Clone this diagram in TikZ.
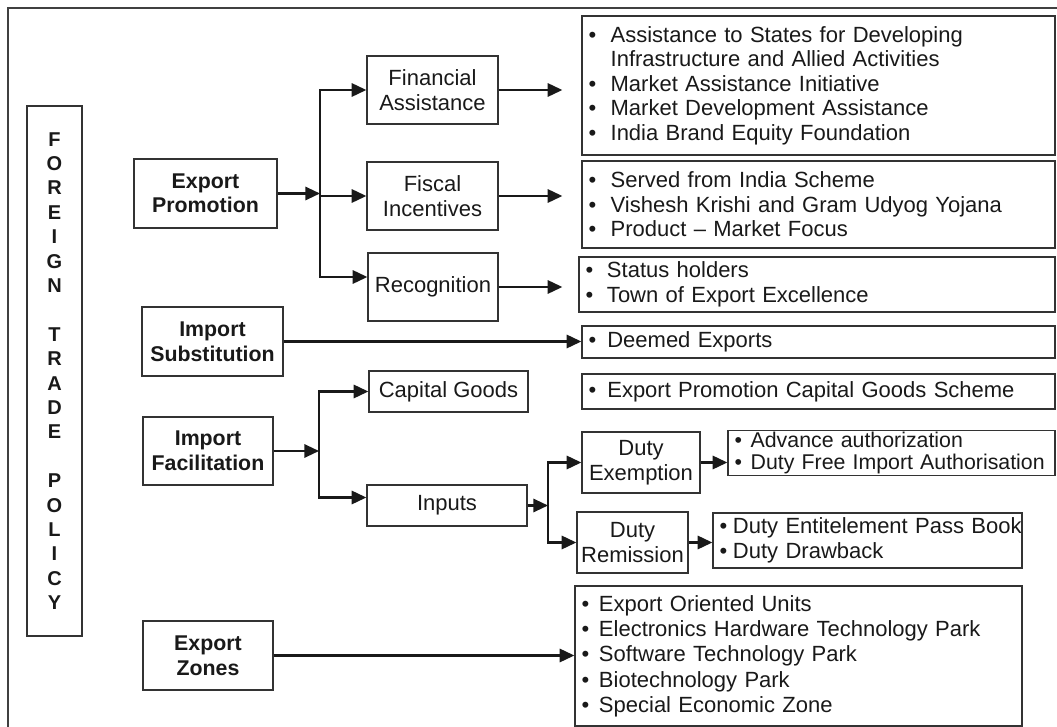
\documentclass[tikz,border=0pt]{standalone}
\usepackage{fontspec}
\setmainfont{Liberation Sans}
\usetikzlibrary{arrows.meta,calc}
\newcommand\itm[2][13pt]{\mbox{\makebox[#1][l]{\textbullet}#2}}

\begin{document}
\begin{tikzpicture}[x=0.75pt,y=-0.75pt,
  every node/.style={text=black!90},
  box/.style 2 args={draw=black!80,line width=1pt,inner sep=0pt,
    minimum width=#1*0.75pt,minimum height=#2*0.75pt,align=center,
    font=\fontsize{16.5}{18.4}\selectfont},
  head/.style 2 args={box={#1}{#2},font=\fontsize{16}{18.4}\selectfont\bfseries},
  lst/.code 2 args={\pgfmathsetmacro\lstw{#1*0.75-10}%
    \tikzset{box={#1}{#2},inner xsep=5pt,align=left,text width=\lstw pt}},
  ln/.style={line width=1.6pt,black!90},
  arr/.style={ln,-{Triangle[length=11pt,width=10pt]}}]
  \useasboundingbox (0,0) rectangle (1057,727);
  \draw[line width=0.8pt,black!75] (1057,8) -- (8,8) -- (8,727);

  \node[box={55}{530},font=\fontsize{15}{18.3}\selectfont\bfseries] (ftp) at (54.5,371)
    {F\\O\\R\\E\\I\\G\\N\\[18.3pt]T\\R\\A\\D\\E\\[18.3pt]P\\O\\L\\I\\C\\Y};

  \node[head={143}{69}] (exprom) at (205.5,193.5) {Export\\Promotion};
  \node[box={131}{68}] (finas) at (432.5,90) {Financial\\Assistance};
  \node[box={131}{68}] (fisc) at (432.5,196) {Fiscal\\Incentives};
  \node[box={130}{68}] (recog) at (433,287) {Recognition};
  \node[lst={473}{139}] (finlist) at (818.5,85.5)
    {\itm[16.5pt]{Assistance to States for Developing}\\
     \mbox{\hspace{16.5pt}Infrastructure and Allied Activities}\\
     \itm[16.5pt]{Market Assistance Initiative}\\
     \itm[16.5pt]{Market Development Assistance}\\
     \itm[16.5pt]{India Brand Equity Foundation}};
  \node[lst={473}{87}] (fisclist) at (818.5,204.5)
    {\itm[16.5pt]{Served from India Scheme}\\
     \itm[16.5pt]{Vishesh Krishi and Gram Udyog Yojana}\\
     \itm[16.5pt]{Product – Market Focus}};
  \node[lst={476}{55}] (recoglist) at (817,284.5)
    {\itm[16pt]{Status holders}\\\itm[16pt]{Town of Export Excellence}};

  \node[head={141}{69}] (impsub) at (212.5,341.5) {Import\\Substitution};
  \node[lst={473}{32}] (deemed) at (818.5,342) {\itm[14pt]{Deemed Exports}};

  \node[head={130}{68}] (impfac) at (208,451) {Import\\Facilitation};
  \node[box={159}{41}] (capg) at (448.5,391.5) {Capital Goods};
  \node[lst={473}{35}] (epcg) at (818.5,391.5)
    {\itm[14pt]{Export Promotion Capital Goods Scheme}};
  \node[box={160}{41}] (inputs) at (447,505.5) {Inputs};
  \node[box={118}{61}] (dutyex) at (641,462.5) {Duty\\Exemption};
  \node[box={111}{61}] (dutyrem) at (632.5,542.5) {Duty\\Remission};
  \node[lst={327}{45},font=\fontsize{16}{17}\selectfont] (exlist) at (891.5,453)
    {\itm[12pt]{Advance authorization}\\\itm[12pt]{Duty Free Import Authorisation}};
  \node[lst={309}{55}] (remlist) at (867.5,540.5)
    {\itm[10pt]{Duty Entitelement Pass Book}\\\itm[10pt]{Duty Drawback}};

  \node[head={130}{69}] (expzones) at (208,655.5) {Export\\Zones};
  \node[lst={447}{140},font=\fontsize{16.5}{19}\selectfont] (zonelist) at (798.5,656)
    {\itm{Export Oriented Units}\\
     \itm{Electronics Hardware Technology Park}\\
     \itm{Software Technology Park}\\
     \itm{Biotechnology Park}\\
     \itm{Special Economic Zone}};

  \coordinate (b1) at (320,0);
  \coordinate (b2) at (319,0);
  \coordinate (b3) at (548,0);

  \draw[arr] (exprom) -- (exprom -| b1);
  \draw[arr] (fisc -| b1) |- (finas);
  \draw[arr] (fisc -| b1) -- (fisc);
  \draw[arr] (fisc -| b1) |- ($(recog.west)+(0,-10)$);
  \draw[arr] (finas) -- ($(finas -| finlist.west)+(-19,0)$);
  \draw[arr] (fisc) -- ($(fisc -| fisclist.west)+(-19,0)$);
  \draw[arr] (recog) -- ($(recog -| recoglist.west)+(-16,0)$);

  \draw[arr] (impsub) -- (impsub -| deemed.west);

  \draw[arr] (impfac) -- (impfac -| b2);
  \draw[arr] (impfac -| b2) |- (capg);
  \draw[arr] (impfac -| b2) |- ($(inputs.west)+(0,-8)$);
  \draw[arr] (inputs) -- (inputs -| b3);
  \draw[arr] (inputs -| b3) |- (dutyex);
  \draw[arr] (inputs -| b3) |- (dutyrem);
  \draw[arr] (dutyex) -- (dutyex -| exlist.west);
  \draw[arr] (dutyrem) -- (dutyrem -| remlist.west);

  \draw[arr] (expzones) -- (expzones -| zonelist.west);
\end{tikzpicture}
\end{document}
